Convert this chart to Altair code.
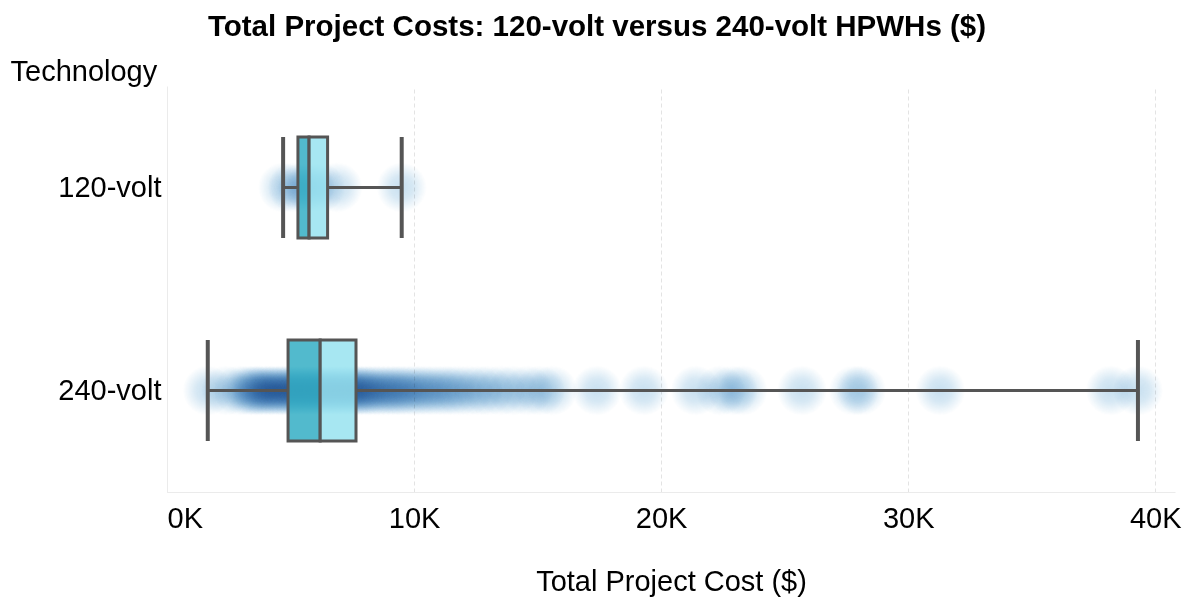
import altair as alt
import pandas as pd

# ---- data ----
techs = ["120-volt", "240-volt"]
whisker_low = [4700, 1650]
q1 = [5300, 4900]
median = [5750, 6200]
q3 = [6500, 7650]
whisker_high = [9500, 39300]

cost_120 = [4700, 5100, 5500, 5800, 6200, 6900, 9500]
cost_240 = [1650, 2400, 2900, 3200,
            3400, 3550, 3700, 3850, 4000, 4150, 4300, 4450, 4600, 4750,
            4900, 5050, 5200, 5350, 5500, 5650, 5800, 5950, 6100, 6250,
            6400, 6550, 6700, 6850, 7000, 7150, 7300, 7450, 7600, 7750,
            7900, 8050, 8200, 8400, 8600, 8800,
            9000, 9200, 9400, 9600, 9850, 10100, 10350, 10600, 10900,
            11200, 11500, 11800, 12200, 12600, 13000, 13500, 14000,
            14600, 15100, 15600,
            17400, 19300, 21400, 22400, 22900, 23300, 25700, 27800, 28100,
            31300, 38200, 39300]

box = pd.DataFrame({
    "tech": techs, "lo": whisker_low, "q1": q1, "med": median,
    "q3": q3, "hi": whisker_high,
})
pts = pd.DataFrame({
    "tech": ["120-volt"] * len(cost_120) + ["240-volt"] * len(cost_240),
    "cost": cost_120 + cost_240,
})

FONT = "Liberation Sans"
x_scale = alt.Scale(domain=[0, 40800], nice=False, zero=False)
y_scale = alt.Scale(domain=techs, paddingInner=0, paddingOuter=0)

x_axis = alt.Axis(
    values=[0, 10000, 20000, 30000, 40000],
    labelExpr="datum.value / 1000 + 'K'",
    labelFontSize=29, labelFont=FONT, labelColor="#000",
    labelPadding=12, labelFlush=True, ticks=False,
    domainColor="#ebebeb", gridColor="#e3e3e3", gridDash=[4, 3],
    title="Total Project Cost ($)", titleFontSize=29, titleFont=FONT,
    titleFontWeight="normal", titleColor="#000", titlePadding=34,
)
y_axis = alt.Axis(
    labelFontSize=29, labelFont=FONT, labelColor="#000", labelPadding=6,
    ticks=False, grid=False, domainColor="#ebebeb",
    title="Technology", titleAngle=0, titleAlign="left",
    titleBaseline="alphabetic", titleX=-157, titleY=-6,
    titleFontSize=29, titleFont=FONT, titleFontWeight="normal", titleColor="#000",
)

blob_fill = {
    "gradient": "radial",
    "x1": 0.5, "y1": 0.5, "r1": 0,
    "x2": 0.5, "y2": 0.5, "r2": 0.5,
    "stops": [
        {"offset": 0, "color": "rgba(200,224,240,1)"},
        {"offset": 0.45, "color": "rgba(200,224,240,0.75)"},
        {"offset": 1, "color": "rgba(200,224,240,0)"},
    ],
}

Y = alt.Y("tech:N", scale=y_scale, axis=y_axis, title="Technology")


def X(field):
    return alt.X(field, type="quantitative", scale=x_scale, axis=x_axis,
                 title="Total Project Cost ($)")


points = alt.Chart(pts).mark_circle(
    size=2500, opacity=1, fill=blob_fill, blend="multiply"
).encode(x=X("cost"), y=Y)

base = alt.Chart(box)

whisk_lo = base.mark_rule(color="#555555", strokeWidth=3).encode(
    x=X("lo"), x2="q1:Q", y=Y)
whisk_hi = base.mark_rule(color="#555555", strokeWidth=3).encode(
    x=X("q3"), x2="hi:Q", y=Y)

box_lo = base.mark_bar(size=101, color="#34aec4", fillOpacity=0.85,
                       stroke="#555555", strokeWidth=3).encode(
    x=X("q1"), x2="med:Q", y=Y)
box_hi = base.mark_bar(size=101, color="#98e3f0", fillOpacity=0.85,
                       stroke="#555555", strokeWidth=3).encode(
    x=X("med"), x2="q3:Q", y=Y)

cap_lo = base.mark_tick(color="#555555", size=101, thickness=4, opacity=1).encode(
    x=X("lo"), y=Y)
cap_hi = base.mark_tick(color="#555555", size=101, thickness=4, opacity=1).encode(
    x=X("hi"), y=Y)

chart = alt.layer(
    points, whisk_lo, whisk_hi, box_lo, box_hi, cap_lo, cap_hi
).properties(
    width=1008, height=406,
    autosize=alt.AutoSizeParams(type="none"),
    padding={"left": 159, "top": 78, "right": 8, "bottom": 108},
    title=alt.TitleParams(
        "Total Project Costs: 120-volt versus 240-volt HPWHs ($)",
        fontSize=29.5, font=FONT, fontWeight="bold", color="#000",
        anchor="middle", dx=-74, offset=15,
    ),
).configure_view(stroke=None)

chart.save("out.html", embed_options={"renderer": "svg", "actions": False})
